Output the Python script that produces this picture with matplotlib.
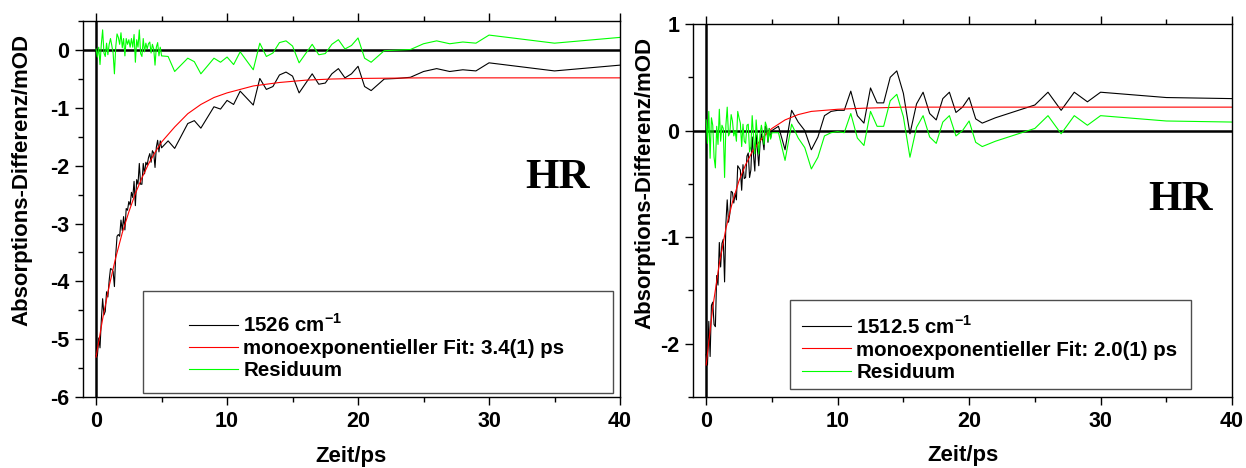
import matplotlib
matplotlib.use("Agg")
import matplotlib.pyplot as plt
from matplotlib.patches import Rectangle
from matplotlib.ticker import MultipleLocator

plt.rcParams['font.family'] = ['Liberation Sans', 'DejaVu Sans']
plt.rcParams['font.weight'] = 'bold'
plt.rcParams['axes.unicode_minus'] = False
plt.rcParams['mathtext.fontset'] = 'custom'
plt.rcParams['mathtext.rm'] = 'Liberation Sans:bold'
plt.rcParams['mathtext.bf'] = 'Liberation Sans:bold'

# ---- left panel: 1526 cm-1 ----
t_1526 = [0.0, 0.1, 0.2, 0.3, 0.4, 0.5, 0.6, 0.7, 0.8, 0.9, 1.0, 1.1, 1.2, 1.3, 1.4, 1.5, 1.6,
          1.7, 1.8, 1.9, 2.0, 2.1, 2.2, 2.3, 2.4, 2.5, 2.6, 2.7, 2.8, 2.9, 3.0, 3.1, 3.2, 3.3,
          3.4, 3.5, 3.6, 3.7, 3.8, 3.9, 4.0, 4.1, 4.2, 4.3, 4.4, 4.5, 4.6, 4.7, 4.8, 4.9, 5.0,
          5.5, 6.0, 7.0, 7.5, 8.0, 9.0, 9.5, 10.0, 10.5, 11.0, 12.0, 12.5, 13.0, 13.5, 14.0,
          14.5, 15.0, 15.5, 16.5, 17.0, 17.5, 18.0, 18.5, 19.0, 19.5, 20.0, 20.5, 21.0, 22.0,
          23.0, 24.0, 25.0, 26.0, 27.0, 28.0, 29.0, 30.0, 35.0, 40.0]
sig_1526 = [-5.29, -5.29, -4.98, -5.15, -4.67, -4.30, -4.58, -4.52, -4.18, -4.27, -3.98, -3.78,
            -3.79, -3.83, -4.09, -3.54, -3.22, -3.19, -3.22, -2.94, -3.12, -2.88, -3.11, -2.74,
            -2.77, -2.62, -2.68, -2.46, -2.55, -2.27, -2.69, -2.24, -2.32, -1.96, -2.32, -2.32,
            -1.96, -2.14, -1.94, -1.99, -1.86, -1.79, -1.94, -1.74, -1.78, -2.03, -1.68, -1.56,
            -1.76, -1.57, -1.69,
            -1.57, -1.70, -1.27, -1.22, -1.35, -0.98, -1.02, -0.87, -0.94, -0.71, -0.95, -0.49,
            -0.68, -0.63, -0.43, -0.38, -0.45, -0.74, -0.41, -0.59, -0.57, -0.41, -0.32, -0.48,
            -0.41, -0.28, -0.63, -0.70, -0.50, -0.49, -0.47, -0.37, -0.32, -0.37, -0.34, -0.36,
            -0.22, -0.36, -0.26]
res_1526 = [0.02, -0.12, 0.05, -0.25, 0.10, 0.35, -0.05, -0.11, 0.12, -0.08, 0.10, 0.20, 0.08,
            -0.05, -0.41, 0.05, 0.28, 0.22, 0.10, 0.30, 0.04, 0.20, -0.10, 0.20, 0.10, 0.18,
            0.05, 0.20, 0.05, 0.27, -0.21, 0.18, 0.05, 0.35, -0.06, -0.11, 0.20, -0.03, 0.12,
            0.02, 0.11, 0.14, -0.05, 0.10, 0.02, -0.26, 0.05, 0.13, -0.10, 0.05, -0.10,
            -0.11, -0.37, -0.14, -0.20, -0.41, -0.14, -0.21, -0.12, -0.25, -0.03, -0.34, 0.12,
            -0.11, -0.05, 0.13, 0.16, 0.07, -0.22, 0.10, -0.08, -0.06, 0.10, 0.18, 0.02, 0.08,
            0.21, -0.14, -0.21, -0.01, 0.00, 0.01, 0.11, 0.16, 0.11, 0.14, 0.12, 0.26, 0.12, 0.22]
tfit_1526 = [0, 0.5, 1, 1.5, 2, 2.5, 3, 3.5, 4, 4.5, 5, 6, 7, 8, 9, 10, 12, 14, 16, 18, 20, 25, 30, 40]
fit_1526 = [-5.31, -4.65, -4.08, -3.59, -3.16, -2.80, -2.48, -2.21, -1.97, -1.77, -1.59, -1.33,
            -1.10, -0.94, -0.82, -0.74, -0.62, -0.56, -0.52, -0.50, -0.49, -0.48, -0.48, -0.48]

# ---- right panel: 1512.5 cm-1 ----
t_1512 = [0.0, 0.1, 0.2, 0.3, 0.4, 0.5, 0.6, 0.7, 0.8, 0.9, 1.0, 1.1, 1.2, 1.3, 1.4, 1.5, 1.6,
          1.7, 1.8, 1.9, 2.0, 2.1, 2.2, 2.3, 2.4, 2.5, 2.6, 2.7, 2.8, 2.9, 3.0, 3.1, 3.2, 3.3,
          3.4, 3.5, 3.6, 3.7, 3.8, 3.9, 4.0, 4.1, 4.2, 4.3, 4.4, 4.5, 4.6, 4.7, 4.8, 4.9, 5.0,
          5.5, 6.0, 6.5, 7.0, 7.5, 8.0, 8.5, 9.0, 9.5, 10.0, 10.5, 11.0, 11.5, 12.0, 12.5,
          13.0, 13.5, 14.0, 14.5, 15.0, 15.5, 16.0, 16.5, 17.0, 17.5, 18.0, 18.5, 19.0, 19.5,
          20.0, 20.5, 21.0, 22.0, 23.0, 24.0, 25.0, 26.0, 27.0, 28.0, 29.0, 30.0, 35.0, 40.0]
sig_1512 = [-2.10, -2.20, -1.79, -2.12, -1.64, -1.61, -1.82, -1.84, -1.36, -1.45, -1.05, -1.28,
            -1.06, -1.02, -1.42, -0.87, -0.65, -0.86, -0.78, -0.57, -0.58, -0.68, -0.59, -0.65,
            -0.33, -0.35, -0.37, -0.56, -0.32, -0.45, -0.44, -0.24, -0.21, -0.44, -0.37, -0.06,
            -0.23, -0.38, -0.04, -0.18, -0.33, -0.12, -0.03, -0.09, -0.18, 0.04, 0.02, -0.11,
            0.02, -0.07, 0.00,
            0.04, -0.18, 0.19, 0.08, 0.00, -0.18, -0.06, 0.14, 0.18, 0.19, 0.19, 0.37, 0.14,
            0.07, 0.40, 0.26, 0.26, 0.50, 0.56, 0.35, -0.03, 0.25, 0.36, 0.16, 0.10, 0.30, 0.36,
            0.17, 0.22, 0.31, 0.11, 0.07, 0.12, 0.16, 0.20, 0.24, 0.36, 0.19, 0.36, 0.27, 0.36,
            0.31, 0.30]
res_1512 = [0.10, -0.12, 0.18, -0.26, 0.12, 0.05, -0.25, -0.35, 0.04, -0.13, 0.20, -0.10, 0.05,
            0.02, -0.44, 0.05, 0.22, -0.05, -0.02, 0.15, 0.09, -0.05, 0.00, -0.10, 0.18, 0.12,
            0.07, -0.15, 0.06, -0.10, -0.12, 0.05, 0.06, -0.20, -0.15, 0.14, -0.05, -0.22, 0.10,
            -0.06, -0.22, -0.03, 0.05, -0.03, -0.13, 0.08, 0.04, -0.10, 0.02, -0.08, -0.02,
            -0.02, -0.28, 0.06, -0.07, -0.16, -0.36, -0.25, -0.05, -0.02, -0.01, -0.02, 0.16,
            -0.07, -0.14, 0.18, 0.04, 0.04, 0.28, 0.34, 0.13, -0.25, 0.03, 0.14, -0.06, -0.12,
            0.08, 0.14, -0.05, 0.00, 0.09, -0.11, -0.15, -0.10, -0.06, -0.02, 0.02, 0.14, -0.03,
            0.14, 0.05, 0.14, 0.09, 0.08]
tfit_1512 = [0, 0.5, 1, 1.5, 2, 2.5, 3, 3.5, 4, 4.5, 5, 6, 7, 8, 9, 10, 12, 15, 20, 30, 40]
fit_1512 = [-2.20, -1.66, -1.25, -0.92, -0.67, -0.47, -0.32, -0.20, -0.11, -0.04, 0.02, 0.10,
            0.15, 0.18, 0.19, 0.20, 0.21, 0.22, 0.22, 0.22, 0.22]

labels_1526 = [r'1526 cm$^{\mathregular{-1}}$', 'monoexponentieller Fit: 3.4(1) ps', 'Residuum']
labels_1512 = [r'1512.5 cm$^{\mathregular{-1}}$', 'monoexponentieller Fit: 2.0(1) ps', 'Residuum']


def panel(ax, t, sig, res, tf, fit, labels, ylim, ylab_xy, box, leg_xy, hr_xy):
    l1, = ax.plot(t, sig, color='black', lw=0.8)
    l2, = ax.plot(tf, fit, color='#ff0000', lw=0.8)
    l3, = ax.plot(t, res, color='#00ff00', lw=0.8)
    ax.axhline(0, color='black', lw=1.8, zorder=1)
    ax.axvline(0, color='black', lw=1.8, zorder=1)
    ax.set_xlim(-1, 40)
    ax.set_ylim(*ylim)
    ax.xaxis.set_major_locator(MultipleLocator(10))
    ax.xaxis.set_minor_locator(MultipleLocator(5))
    ax.yaxis.set_major_locator(MultipleLocator(1))
    ax.yaxis.set_minor_locator(MultipleLocator(0.5))
    ax.tick_params(which='both', direction='out', top=True, right=False, width=1,
                   labelsize=15.5, pad=4)
    ax.tick_params(which='major', length=6)
    ax.tick_params(which='minor', length=3.5)
    for s in ax.spines.values():
        s.set_linewidth(1.0)
    for lab in ax.get_xticklabels() + ax.get_yticklabels():
        lab.set_fontweight('bold')
    ax.set_xlabel('Zeit/ps', fontsize=16, fontweight='bold')
    ax.set_ylabel('Absorptions-Differenz/mOD', fontsize=16, fontweight='bold')
    ax.xaxis.set_label_coords(0.5, -0.13)
    ax.yaxis.set_label_coords(*ylab_xy)
    ax.add_patch(Rectangle(box[:2], box[2], box[3], transform=ax.transAxes, fill=False,
                           ec='0.3', lw=1.0, zorder=5))
    ax.legend([l1, l2, l3], labels, loc='upper left', bbox_to_anchor=leg_xy, frameon=False,
              borderpad=0, borderaxespad=0, handlelength=2.4, handletextpad=0.25,
              labelspacing=0.15, prop={'weight': 'bold', 'size': 14.8})
    ax.text(hr_xy[0], hr_xy[1], 'HR', transform=ax.transAxes, ha='center', va='center',
            family='Liberation Serif', fontweight='bold', fontsize=31)


fig = plt.figure(figsize=(12.46, 4.68), dpi=100)
ax1 = fig.add_axes([0.0666, 0.1517, 0.431, 0.803])
ax2 = fig.add_axes([0.5562, 0.1517, 0.4326, 0.797])

panel(ax1, t_1526, sig_1526, res_1526, tfit_1526, fit_1526, labels_1526, (-6, 0.5),
      (-0.095, 0.577), (0.112, 0.011, 0.875, 0.271), (0.197, 0.222), (0.883, 0.582))
panel(ax2, t_1512, sig_1512, res_1512, tfit_1512, fit_1512, labels_1512, (-2.5, 1),
      (-0.069, 0.574), (0.180, 0.021, 0.744, 0.239), (0.202, 0.220), (0.904, 0.528))

fig.savefig('out.png', dpi=100)
